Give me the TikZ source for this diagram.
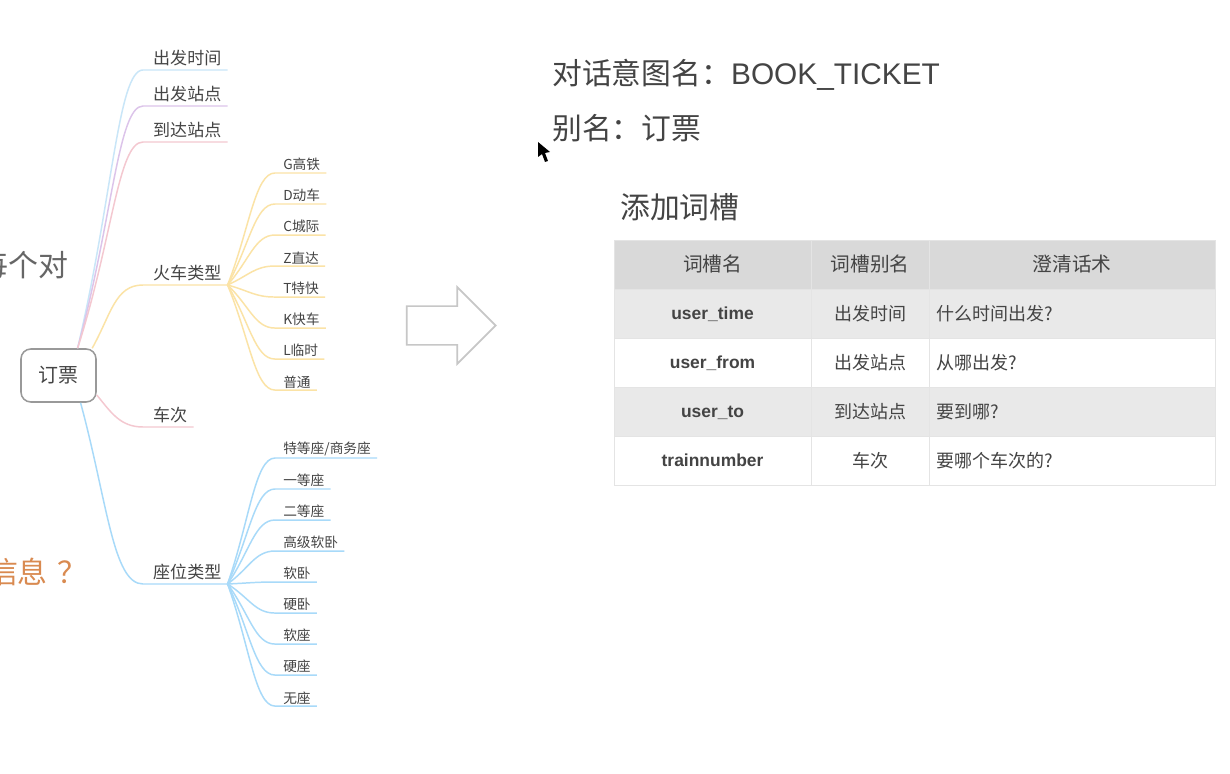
\documentclass[tikz,border=0pt]{standalone}
\usepackage{fontspec}
\usepackage{xcolor}
\usetikzlibrary{positioning,shapes.arrows}
\setmainfont{Noto Sans CJK SC}
\newfontfamily\latinfont{Liberation Sans}

\definecolor{skyline}{HTML}{C9E6F8}
\definecolor{plumline}{HTML}{DCC4EA}
\definecolor{roseline}{HTML}{F4C8D0}
\definecolor{sunline}{HTML}{FBE3A6}
\definecolor{seatline}{HTML}{A8DAF9}
\definecolor{inkgray}{HTML}{444444}
\definecolor{gridgray}{HTML}{E4E4E4}
\definecolor{headgray}{HTML}{D9D9D9}
\definecolor{rowgray}{HTML}{E9E9E9}
\definecolor{rustorange}{HTML}{D98A50}

\tikzset{
    branch/.style={anchor=south west, inner xsep=0.15cm, inner ysep=2.6pt, text=inkgray,
        font=\fontsize{12.1}{14}\selectfont, execute at begin node={\hspace*{2.8pt}}},
    leaf/.style={anchor=south west, inner xsep=0.15cm, inner ysep=1.2pt, text=inkgray,
        font=\fontsize{9.75}{11}\selectfont, execute at begin node={\hspace*{1.4pt}}},
    wire/.style={line width=1.05pt},
    headline/.style={anchor=west, inner sep=0, text=inkgray, font=\fontsize{21.2}{25}\selectfont},
    cell/.style={draw=gridgray, line width=0.7pt, outer sep=0, inner sep=0, minimum height=1.225cm,
        text=inkgray, font=\fontsize{12.8}{15}\selectfont},
    namecell/.style={cell, minimum width=4.925cm, text height=9pt, text depth=0pt,
        font=\latinfont\bfseries\fontsize{12.4}{15}\selectfont},
    aliascell/.style={cell, minimum width=2.95cm},
    askcell/.style={cell, text width=6.8cm, inner xsep=0.175cm, align=left},
    headrow/.style={fill=headgray, font=\fontsize{14}{16}\selectfont},
    evenrow/.style={fill=rowgray},
}

\begin{document}
\begin{tikzpicture}[x=0.025cm, y=-0.025cm, node distance=0cm]
    \fill[white, use as bounding box] (0,0) rectangle (1230,774);

    % cut off by the page edge
    \node[anchor=east, inner sep=0, text=black!60, font=\fontsize{21.3}{25}\selectfont] (crumbA) at (69,265) {每个对};
    \node[anchor=east, inner sep=0, text=rustorange, font=\fontsize{21.3}{25}\selectfont] (crumbB) at (88,572) {信息\hspace{7pt}？};

    % mind map
    \node[draw=black!40, line width=1.1pt, rounded corners=7pt, minimum width=1.875cm, minimum height=1.325cm,
        text=inkgray, font=\fontsize{14.2}{17}\selectfont] (Root) at (58.5,375.5) {订票};

    \node[branch] (DepartTime) at (143,70) {出发时间};
    \node[branch] (DepartStation) at (143,106) {出发站点};
    \node[branch] (ArriveStation) at (143,142) {到达站点};
    \node[branch] (TrainType) at (143,285) {火车类型};
    \node[branch] (TrainNo) at (143,427) {车次};
    \node[branch] (SeatType) at (143,584) {座位类型};

    \node[leaf] (TrainG) at (275,173) {G高铁};
    \node[leaf, below=0.775cm of TrainG.south west, anchor=south west] (TrainD) {D动车};
    \node[leaf, below=0.775cm of TrainD.south west, anchor=south west] (TrainC) {C城际};
    \node[leaf, below=0.775cm of TrainC.south west, anchor=south west] (TrainZ) {Z直达};
    \node[leaf, below=0.775cm of TrainZ.south west, anchor=south west] (TrainT) {T特快};
    \node[leaf, below=0.775cm of TrainT.south west, anchor=south west] (TrainK) {K快车};
    \node[leaf, below=0.775cm of TrainK.south west, anchor=south west] (TrainL) {L临时};
    \node[leaf, below=0.775cm of TrainL.south west, anchor=south west] (TrainP) {普通};

    \node[leaf] (SeatA) at (275,458) {特等座/商务座};
    \node[leaf, below=0.775cm of SeatA.south west, anchor=south west] (SeatB) {一等座};
    \node[leaf, below=0.775cm of SeatB.south west, anchor=south west] (SeatC) {二等座};
    \node[leaf, below=0.775cm of SeatC.south west, anchor=south west] (SeatD) {高级软卧};
    \node[leaf, below=0.775cm of SeatD.south west, anchor=south west] (SeatE) {软卧};
    \node[leaf, below=0.775cm of SeatE.south west, anchor=south west] (SeatF) {硬卧};
    \node[leaf, below=0.775cm of SeatF.south west, anchor=south west] (SeatG) {软座};
    \node[leaf, below=0.775cm of SeatG.south west, anchor=south west] (SeatH) {硬座};
    \node[leaf, below=0.775cm of SeatH.south west, anchor=south west] (SeatI) {无座};

    \draw[wire, skyline] (Root.55) .. controls +(35,-149) and +(-25,0) .. (DepartTime.south west) -- (DepartTime.south east);
    \draw[wire, plumline] (Root.55) .. controls +(35,-129) and +(-25,0) .. (DepartStation.south west) -- (DepartStation.south east);
    \draw[wire, roseline] (Root.55) .. controls +(35,-109) and +(-25,0) .. (ArriveStation.south west) -- (ArriveStation.south east);
    \draw[wire, sunline] (Root.39) .. controls +(19,-34) and +(-28,0) .. (TrainType.south west) -- (TrainType.south east);
    \draw[wire, roseline] (Root.-27) .. controls +(14,17) and +(-23,0) .. (TrainNo.south west) -- (TrainNo.south east);
    \draw[wire, seatline] (Root.-51) .. controls +(27,100) and +(-30,0) .. (SeatType.south west) -- (SeatType.south east);

    \draw[wire, sunline] (TrainType.south east) .. controls +(22,-56) and +(-20,0) .. (TrainG.south west) -- (TrainG.south east);
    \draw[wire, sunline] (TrainType.south east) .. controls +(22,-40) and +(-20,0) .. (TrainD.south west) -- (TrainD.south east);
    \draw[wire, sunline] (TrainType.south east) .. controls +(22,-25) and +(-20,0) .. (TrainC.south west) -- (TrainC.south east);
    \draw[wire, sunline] (TrainType.south east) .. controls +(22,-10) and +(-20,0) .. (TrainZ.south west) -- (TrainZ.south east);
    \draw[wire, sunline] (TrainType.south east) .. controls +(22,6) and +(-20,0) .. (TrainT.south west) -- (TrainT.south east);
    \draw[wire, sunline] (TrainType.south east) .. controls +(22,21) and +(-20,0) .. (TrainK.south west) -- (TrainK.south east);
    \draw[wire, sunline] (TrainType.south east) .. controls +(22,37) and +(-20,0) .. (TrainL.south west) -- (TrainL.south east);
    \draw[wire, sunline] (TrainType.south east) .. controls +(22,53) and +(-20,0) .. (TrainP.south west) -- (TrainP.south east);

    \draw[wire, seatline] (SeatType.south east) .. controls +(22,-63) and +(-20,0) .. (SeatA.south west) -- (SeatA.south east);
    \draw[wire, seatline] (SeatType.south east) .. controls +(22,-48) and +(-20,0) .. (SeatB.south west) -- (SeatB.south east);
    \draw[wire, seatline] (SeatType.south east) .. controls +(22,-32) and +(-20,0) .. (SeatC.south west) -- (SeatC.south east);
    \draw[wire, seatline] (SeatType.south east) .. controls +(22,-16) and +(-20,0) .. (SeatD.south west) -- (SeatD.south east);
    \draw[wire, seatline] (SeatType.south east) .. controls +(22,-1) and +(-20,0) .. (SeatE.south west) -- (SeatE.south east);
    \draw[wire, seatline] (SeatType.south east) .. controls +(22,14) and +(-20,0) .. (SeatF.south west) -- (SeatF.south east);
    \draw[wire, seatline] (SeatType.south east) .. controls +(22,30) and +(-20,0) .. (SeatG.south west) -- (SeatG.south east);
    \draw[wire, seatline] (SeatType.south east) .. controls +(22,45) and +(-20,0) .. (SeatH.south west) -- (SeatH.south east);
    \draw[wire, seatline] (SeatType.south east) .. controls +(22,61) and +(-20,0) .. (SeatI.south west) -- (SeatI.south east);

    \node[draw=black!22, line width=1.2pt, single arrow, single arrow head extend=0.475cm, single arrow head indent=0cm,
        minimum width=1.875cm, minimum height=2.225cm, inner xsep=0cm, inner ysep=0.4625cm] (Flow) at (441.5,325.5) {};

    % right side
    \node[headline] (IntentName) at (552,75) {对话意图名：{\latinfont BOOK\_TICKET}};
    \node[headline] (IntentAlias) at (552,128) {别名：订票};
    \node[headline] (SlotTitle) at (620,207) {添加词槽};

    \node[namecell, headrow, anchor=north west, text height=, text depth=] (HeadName) at (614,240) {词槽名};
    \node[aliascell, headrow, right=of HeadName] (HeadAlias) {词槽别名};
    \node[askcell, headrow, right=of HeadAlias, align=center] (HeadAsk) {澄清话术};

    \node[namecell, evenrow, below=of HeadName] (NameA) {user\_time};
    \node[aliascell, evenrow, right=of NameA] (AliasA) {出发时间};
    \node[askcell, evenrow, right=of AliasA] (AskA) {什么时间出发?};

    \node[namecell, below=of NameA] (NameB) {user\_from};
    \node[aliascell, right=of NameB] (AliasB) {出发站点};
    \node[askcell, right=of AliasB] (AskB) {从哪出发?};

    \node[namecell, evenrow, below=of NameB] (NameC) {user\_to};
    \node[aliascell, evenrow, right=of NameC] (AliasC) {到达站点};
    \node[askcell, evenrow, right=of AliasC] (AskC) {要到哪?};

    \node[namecell, below=of NameC] (NameD) {trainnumber};
    \node[aliascell, right=of NameD] (AliasD) {车次};
    \node[askcell, right=of AliasD] (AskD) {要哪个车次的?};

    % pointer
    \fill[black] (538,142) -- (538,157) -- (542,154) -- (545,162) -- (548,161) -- (545,153) -- (550,152) -- cycle;
\end{tikzpicture}
\end{document}
